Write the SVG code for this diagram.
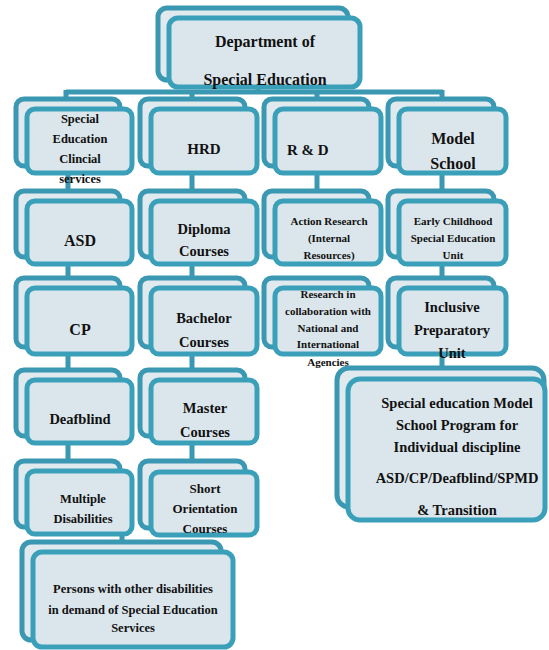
<svg xmlns="http://www.w3.org/2000/svg" width="549" height="650" viewBox="0 0 549 650">
<style>
.bk{fill:#dfe9ee;stroke:#3a98b2;stroke-width:5}
.fr{fill:#dbe6ec;stroke:#3aa0ba;stroke-width:5}
.in{fill:none;stroke:#8fd0e0;stroke-width:1}
.cn{stroke:#3a98b2;stroke-width:5;fill:none}
text{font-family:"Liberation Serif","Times New Roman",serif;font-weight:bold;fill:#111;text-anchor:middle}
</style>
<rect width="549" height="650" fill="#fff"/>
<g id="connectors">
<path class="cn" d="M66 92H443M66 90V99M192 90V99M317 90V99M442 90V99M258 84V92"/>
<path class="cn" d="M68 172V191M68 263V278M68 353V370M68 442V461M122 533V542"/>
<path class="cn" d="M192 172V191M192 263V278M192 353V370M192 442V461"/>
<path class="cn" d="M317 172V191"/>
<path class="cn" d="M442 172V191M442 263V278M442 353V368"/>
</g>
<g id="n-dept">
<rect class="bk" x="158" y="8" width="190" height="72" rx="9"/>
<rect class="fr" x="169" y="18" width="191" height="69" rx="9"/>
<text x="265" y="47" font-size="16">Department of</text>
<text x="265" y="85" font-size="16">Special Education</text>
</g>
<g id="n-secs">
<rect class="bk" x="16" y="99" width="104" height="67" rx="8"/>
<rect class="fr" x="27" y="109" width="105" height="64" rx="8"/>
<text x="80" y="123" font-size="12.5">Special</text>
<text x="80" y="143" font-size="12.5">Education</text>
<text x="80" y="163" font-size="12.5">Clincial</text>
<text x="80" y="183" font-size="12.5">services</text>
</g>
<g id="n-hrd">
<rect class="bk" x="140" y="99" width="105" height="67" rx="8"/>
<rect class="fr" x="151" y="109" width="106" height="64" rx="8"/>
<text x="204" y="154" font-size="15">HRD</text>
</g>
<g id="n-rd">
<rect class="bk" x="264" y="99" width="105" height="67" rx="8"/>
<rect class="fr" x="275" y="109" width="106" height="64" rx="8"/>
<text x="287" y="155" font-size="15" style="text-anchor:start">R &amp; D</text>
</g>
<g id="n-model">
<rect class="bk" x="388" y="99" width="106" height="67" rx="8"/>
<rect class="fr" x="399" y="109" width="107" height="64" rx="8"/>
<text x="453" y="144" font-size="16">Model</text>
<text x="453" y="169" font-size="16">School</text>
</g>
<g id="n-asd">
<rect class="bk" x="16" y="191" width="104" height="66" rx="8"/>
<rect class="fr" x="27" y="201" width="105" height="63" rx="8"/>
<text x="80" y="246" font-size="16">ASD</text>
</g>
<g id="n-diploma">
<rect class="bk" x="140" y="191" width="105" height="66" rx="8"/>
<rect class="fr" x="151" y="201" width="106" height="63" rx="8"/>
<text x="204" y="234" font-size="14.5">Diploma</text>
<text x="204" y="256" font-size="14.5">Courses</text>
</g>
<g id="n-action">
<rect class="bk" x="264" y="191" width="105" height="66" rx="8"/>
<rect class="fr" x="275" y="201" width="106" height="63" rx="8"/>
<text x="329" y="225" font-size="11">Action Research</text>
<text x="329" y="242" font-size="11">(Internal</text>
<text x="329" y="259" font-size="11">Resources)</text>
</g>
<g id="n-early">
<rect class="bk" x="388" y="191" width="106" height="66" rx="8"/>
<rect class="fr" x="399" y="201" width="107" height="63" rx="8"/>
<text x="453" y="225" font-size="11">Early Childhood</text>
<text x="453" y="242" font-size="11">Special Education</text>
<text x="453" y="259" font-size="11">Unit</text>
</g>
<g id="n-cp">
<rect class="bk" x="16" y="278" width="104" height="69" rx="8"/>
<rect class="fr" x="27" y="288" width="105" height="66" rx="8"/>
<text x="80" y="335" font-size="16">CP</text>
</g>
<g id="n-bachelor">
<rect class="bk" x="140" y="278" width="105" height="69" rx="8"/>
<rect class="fr" x="151" y="288" width="106" height="66" rx="8"/>
<text x="204" y="323" font-size="14.5">Bachelor</text>
<text x="204" y="347" font-size="14.5">Courses</text>
</g>
<g id="n-research">
<rect class="bk" x="264" y="278" width="105" height="69" rx="8"/>
<rect class="fr" x="275" y="288" width="106" height="66" rx="8"/>
<text x="328" y="298" font-size="11">Research in</text>
<text x="328" y="315" font-size="11">collaboration with</text>
<text x="328" y="332" font-size="11">National and</text>
<text x="328" y="348" font-size="11">International</text>
<text x="328" y="366" font-size="11">Agencies</text>
</g>
<g id="n-inclusive">
<rect class="bk" x="388" y="278" width="106" height="69" rx="8"/>
<rect class="fr" x="399" y="288" width="107" height="66" rx="8"/>
<text x="452" y="312" font-size="14.5">Inclusive</text>
<text x="452" y="335" font-size="14.5">Preparatory</text>
<text x="452" y="358" font-size="14.5">Unit</text>
</g>
<g id="n-deafblind">
<rect class="bk" x="16" y="370" width="104" height="66" rx="8"/>
<rect class="fr" x="27" y="380" width="105" height="63" rx="8"/>
<text x="80" y="424" font-size="14.5">Deafblind</text>
</g>
<g id="n-master">
<rect class="bk" x="140" y="370" width="105" height="66" rx="8"/>
<rect class="fr" x="151" y="380" width="106" height="63" rx="8"/>
<text x="205" y="413" font-size="14.5">Master</text>
<text x="205" y="437" font-size="14.5">Courses</text>
</g>
<g id="n-multiple">
<rect class="bk" x="16" y="461" width="104" height="66" rx="8"/>
<rect class="fr" x="27" y="471" width="105" height="63" rx="8"/>
<text x="83" y="503" font-size="12.5">Multiple</text>
<text x="83" y="523" font-size="12.5">Disabilities</text>
</g>
<g id="n-short">
<rect class="bk" x="140" y="461" width="105" height="67" rx="8"/>
<rect class="fr" x="151" y="472" width="106" height="63" rx="8"/>
<text x="205" y="493" font-size="13">Short</text>
<text x="205" y="513" font-size="13">Orientation</text>
<text x="205" y="533" font-size="13">Courses</text>
</g>
<g id="n-persons">
<rect class="bk" x="22" y="542" width="199" height="98" rx="9"/>
<rect class="fr" x="33" y="552" width="200" height="95" rx="9"/>
<text x="133" y="593" font-size="12.5">Persons with other disabilities</text>
<text x="133" y="614" font-size="12.5">in demand of Special Education</text>
<text x="133" y="632" font-size="12.5">Services</text>
</g>
<g id="n-program">
<rect class="bk" x="337" y="368" width="207" height="139" rx="12"/>
<rect class="fr" x="348" y="379" width="197" height="141" rx="12"/>
<text x="457" y="408" font-size="14.5">Special education Model</text>
<text x="457" y="430" font-size="14.5">School Program for</text>
<text x="457" y="452" font-size="14.5">Individual discipline</text>
<text x="457" y="483" font-size="14.5">ASD/CP/Deafblind/SPMD</text>
<text x="457" y="515" font-size="14.5">&amp; Transition</text>
</g>
</svg>
